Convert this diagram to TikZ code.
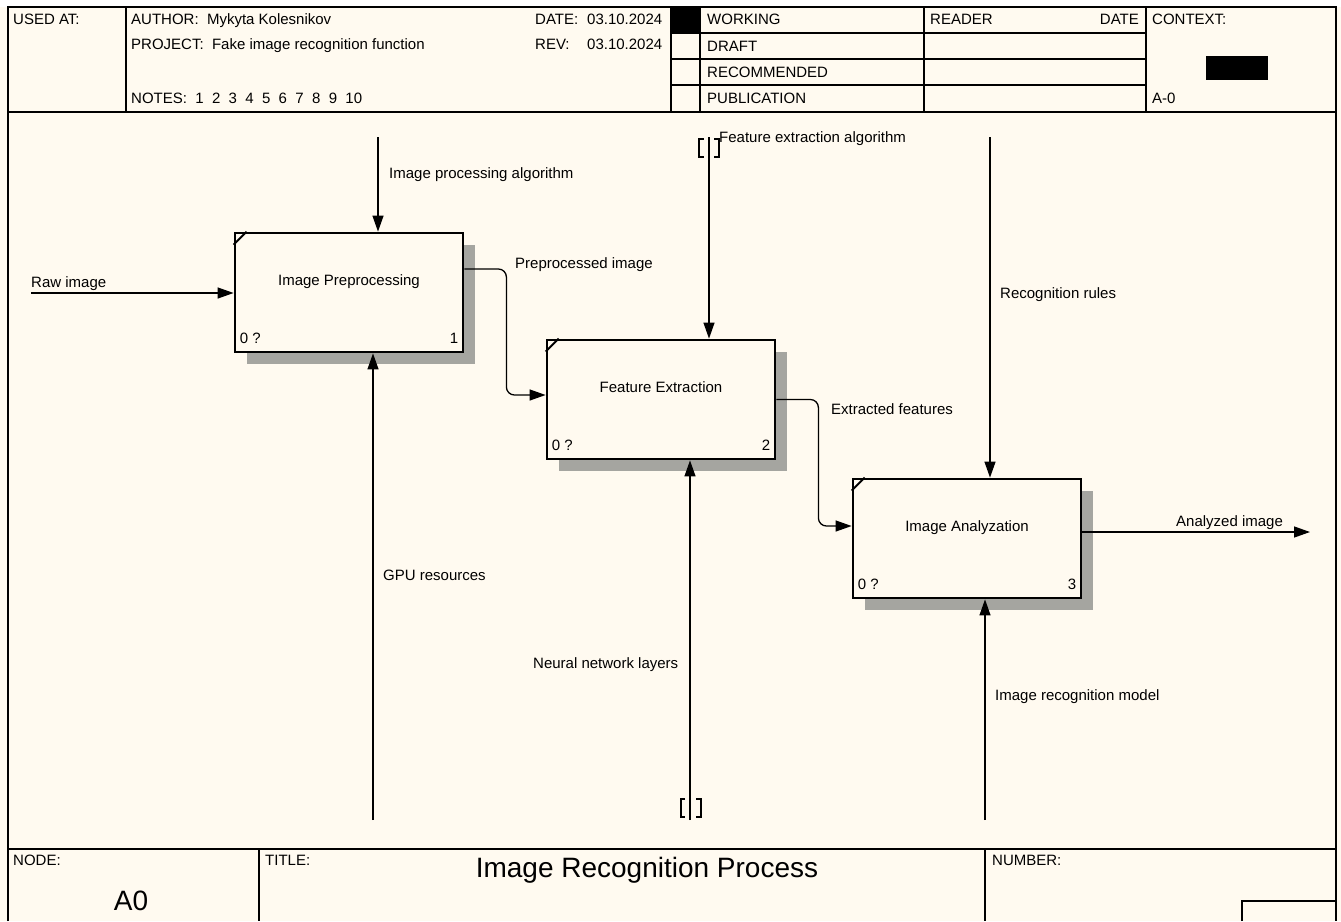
\documentclass[tikz,border=0pt]{standalone}
\usepackage{fontspec}
\setmainfont{Liberation Sans}
\usetikzlibrary{positioning,arrows.meta,shadows}
\definecolor{idefpaper}{RGB}{255,250,240}
\definecolor{idefshade}{RGB}{165,165,160}
\newcommand{\idef}{\fontsize{15}{18}\selectfont}
\newcommand{\idefbig}{\fontsize{28}{32}\selectfont}
\tikzstyle{activity} = [draw=black,
						line width=2.8pt,
						minimum width=228pt,
						minimum height=119pt,
						fill=idefpaper,
						drop shadow={shadow xshift=12pt,
									 shadow yshift=-12pt,
									 opacity=1,
									 fill=idefshade}]
\tikzstyle{tag} = [font=\idef,
				   inner sep=0pt,
				   anchor=base west]
\tikzstyle{flow} = [line width=1.3pt,
					-{Triangle[length=16pt,width=11pt]}]
\tikzstyle{pipe} = [line width=1.3pt,
					rounded corners=8pt,
					-{Triangle[length=16pt,width=11pt]}]
\tikzstyle{outerline} = [line width=1.6pt]
\tikzstyle{cellline} = [line width=1.3pt]
\tikzstyle{cornertick} = [line width=2pt]
\tikzstyle{tunnel} = [line width=1.4pt]

\begin{document}
\begin{tikzpicture}[x=1pt,y=-1pt]
	\useasboundingbox (0,0) rectangle (1341,921);
	\fill[white] (0,0) rectangle (1341,7);
	\fill[idefpaper] (0,7) rectangle (1341,921);

	%%%%%%%%%%
	% HEADER %
	%%%%%%%%%%
	\draw[outerline] (8,921) -- (8,7) -- (1336,7) -- (1336,921);
	\draw[outerline] (8,112) -- (1336,112);
	\foreach \x in {126,671,700,924,1146}
		\draw[cellline] (\x,7) -- (\x,112);
	\foreach \y in {33,59,85}
		\draw[cellline] (671,\y) -- (1146,\y);
	\fill (671,7) rectangle (700,33);
	\fill (1206,56) rectangle (1268,80);

	\node[tag] (usedat) at (13,24) {USED AT:};
	\node[tag] (author) at (131,24) {AUTHOR:\ \ Mykyta Kolesnikov};
	\node[tag] (project) at (131,49) {PROJECT:\ \ Fake image recognition function};
	\node[tag] (notes) at (131,103) {NOTES:\ \ 1\ \ 2\ \ 3\ \ 4\ \ 5\ \ 6\ \ 7\ \ 8\ \ 9\ \ 10};
	\node[tag] (datekey) at (535,24) {DATE:};
	\node[tag] (dateval) at (587,24) {03.10.2024};
	\node[tag] (revkey) at (535,49) {REV:};
	\node[tag] (revval) at (587,49) {03.10.2024};
	\node[tag] (working) at (707,24) {WORKING};
	\node[tag] (draft) at (707,51) {DRAFT};
	\node[tag] (recomm) at (707,77) {RECOMMENDED};
	\node[tag] (public) at (707,103) {PUBLICATION};
	\node[tag] (reader) at (930,24) {READER};
	\node[tag, anchor=base east] (readdate) at (1139,24) {DATE};
	\node[tag] (context) at (1152,24) {CONTEXT:};
	\node[tag] (ctxnode) at (1152,103) {A-0};

	%%%%%%%%%%
	% FOOTER %
	%%%%%%%%%%
	\draw[outerline] (8,849) -- (1336,849);
	\draw[cellline] (259,849) -- (259,921);
	\draw[cellline] (985,849) -- (985,921);
	\draw[cellline] (1242,921) -- (1242,901) -- (1336,901);
	\node[tag] (nodekey) at (13,865) {NODE:};
	\node[tag] (titlekey) at (265,865) {TITLE:};
	\node[tag] (numkey) at (992,865) {NUMBER:};
	\node[font=\idefbig, inner sep=0pt, anchor=base] (nodeval) at (131,910) {A0};
	\node[font=\idefbig, inner sep=0pt, anchor=base] (titleval) at (647,877) {Image Recognition Process};

	%%%%%%%%%%%%%%
	% ACTIVITIES %
	%%%%%%%%%%%%%%
	\node[activity] (prep) at (349,292.5) {};
	\node[activity] (feat) at (661,399.5) {};
	\node[activity] (anlz) at (967,538.5) {};
	\foreach \b in {prep,feat,anlz}
		\draw[cornertick] ([yshift=-13pt]\b.north west) -- ([xshift=13pt]\b.north west);

	\node[font=\idef, inner sep=0pt, anchor=base] (prep-t) at ([yshift=7pt]prep.center) {Image Preprocessing};
	\node[tag] (prep-c) at ([shift={(6,-10)}]prep.south west) {0 ?};
	\node[tag, anchor=base east] (prep-n) at ([shift={(-6,-10)}]prep.south east) {1};

	\node[font=\idef, inner sep=0pt, anchor=base] (feat-t) at ([yshift=7pt]feat.center) {Feature Extraction};
	\node[tag] (feat-c) at ([shift={(6,-10)}]feat.south west) {0 ?};
	\node[tag, anchor=base east] (feat-n) at ([shift={(-6,-10)}]feat.south east) {2};

	\node[font=\idef, inner sep=0pt, anchor=base] (anlz-t) at ([yshift=7pt]anlz.center) {Image Analyzation};
	\node[tag] (anlz-c) at ([shift={(6,-10)}]anlz.south west) {0 ?};
	\node[tag, anchor=base east] (anlz-n) at ([shift={(-6,-10)}]anlz.south east) {3};

	%%%%%%%%%%
	% ARROWS %
	%%%%%%%%%%
	\coordinate (rawsrc) at (31,293);
	\coordinate (ipasrc) at (378,137);
	\coordinate (gpusrc) at (373,820);
	\coordinate (feasrc) at (709,137);
	\coordinate (nnsrc) at (690,820);
	\coordinate (rulesrc) at (990,137);
	\coordinate (modsrc) at (985,820);
	\coordinate (outdst) at (1310,532);
	\coordinate (tunA) at (709,148);
	\coordinate (tunB) at (690,808);

	\draw[flow] (rawsrc) -- (rawsrc -| prep.west);
	\draw[flow] (ipasrc) -- (ipasrc |- prep.north);
	\draw[flow] (gpusrc) -- (gpusrc |- prep.south);
	\draw[pipe] ([yshift=23.5pt]prep.east) -- ++(42,0) |- ([yshift=4.5pt]feat.west);
	\draw[flow] (feasrc) -- (feasrc |- feat.north);
	\draw[flow] (nnsrc) -- (nnsrc |- feat.south);
	\draw[pipe] (feat.east) -- ++(42,0) |- ([yshift=12.5pt]anlz.west);
	\draw[flow] (rulesrc) -- (rulesrc |- anlz.north);
	\draw[flow] (modsrc) -- (modsrc |- anlz.south);
	\draw[flow] ([yshift=6.5pt]anlz.east) -- (outdst);

	% tunnels
	\draw[tunnel] ([shift={(-5,-9)}]tunA) -- ++(-5,0) -- ++(0,18) -- ++(5,0);
	\draw[tunnel] ([shift={(5,-9)}]tunA) -- ++(5,0) -- ++(0,18) -- ++(-5,0);
	\draw[tunnel] ([shift={(-5,-9)}]tunB) -- ++(-4,0) -- ++(0,18) -- ++(4,0);
	\draw[tunnel] ([shift={(6,-9)}]tunB) -- ++(5,0) -- ++(0,18) -- ++(-5,0);

	\node[tag] (rawlbl) at (31,287) {Raw image};
	\node[tag] (ipalbl) at (389,178) {Image processing algorithm};
	\node[tag] (gpulbl) at (383,580) {GPU resources};
	\node[tag] (pplbl) at (515,268) {Preprocessed image};
	\node[tag] (fealbl) at (719,142) {Feature extraction algorithm};
	\node[tag] (nnlbl) at (533,668) {Neural network layers};
	\node[tag] (eflbl) at (831,414) {Extracted features};
	\node[tag] (rulelbl) at (1000,298) {Recognition rules};
	\node[tag] (modlbl) at (995,700) {Image recognition model};
	\node[tag] (outlbl) at (1176,526) {Analyzed image};
\end{tikzpicture}
\end{document}
